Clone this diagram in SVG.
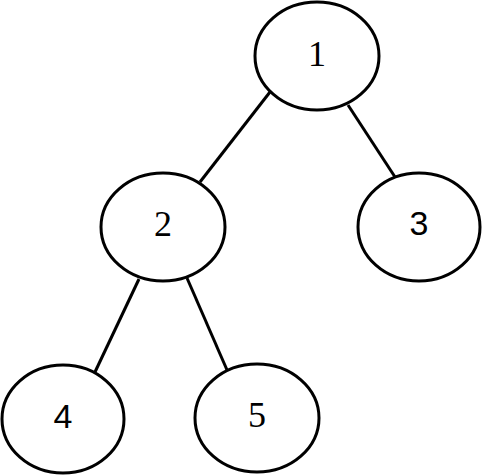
<svg xmlns="http://www.w3.org/2000/svg" width="482" height="476" viewBox="0 0 482 476">
<style>
.n{fill:#fff;stroke:#000;stroke-width:3}
.e{stroke:#000;stroke-width:3;fill:none}
.s{font-family:"Liberation Serif","DejaVu Serif",serif;font-size:36px;text-anchor:middle}
.a{font-family:"Liberation Sans","DejaVu Sans",sans-serif;font-size:34px;text-anchor:middle}
</style>
<rect width="482" height="476" fill="#fff"/>
<g id="edges">
<line class="e" x1="270" y1="92" x2="200" y2="182"/>
<line class="e" x1="348" y1="105" x2="395" y2="177"/>
<line class="e" x1="139" y1="279" x2="95" y2="372"/>
<line class="e" x1="187" y1="278" x2="227" y2="370"/>
</g>
<g id="n1"><ellipse class="n" cx="317" cy="56" rx="62" ry="54"/><text class="s" x="317" y="66">1</text></g>
<g id="n2"><ellipse class="n" cx="163" cy="227" rx="62" ry="54"/><text class="s" x="163" y="236">2</text></g>
<g id="n3"><ellipse class="n" cx="419" cy="227" rx="61" ry="54"/><text class="a" x="419" y="235">3</text></g>
<g id="n4"><ellipse class="n" cx="63" cy="419" rx="61" ry="54"/><text class="a" x="63" y="428">4</text></g>
<g id="n5"><ellipse class="n" cx="257" cy="418" rx="62" ry="54"/><text class="s" x="257" y="427">5</text></g>
</svg>
